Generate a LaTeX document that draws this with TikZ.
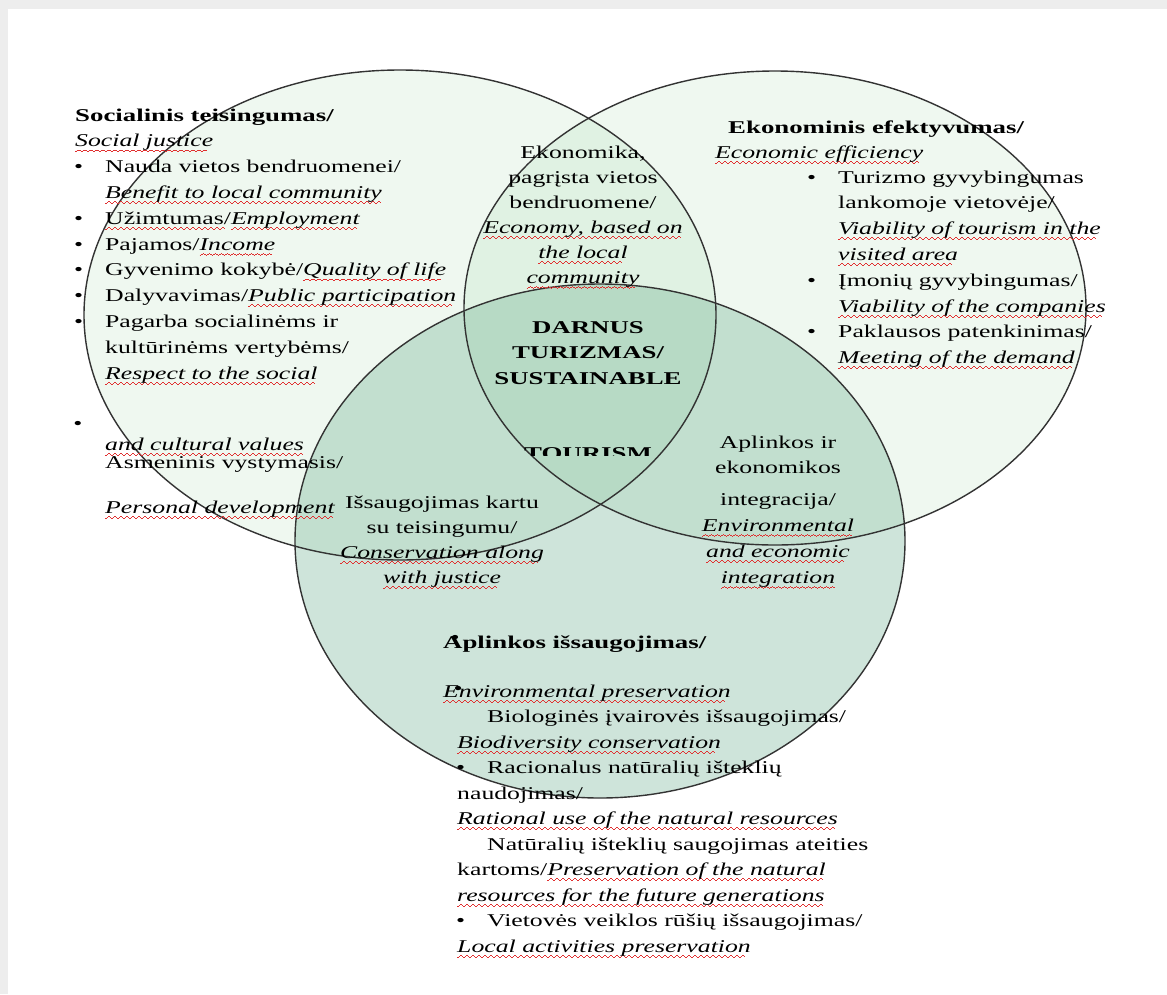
\documentclass[tikz,border=0pt]{standalone}
\usepackage{fontspec}
\setmainfont{Liberation Serif}[FakeStretch=1.43, BoldFeatures={FakeStretch=1.49}]
\usepackage{tikz}

\definecolor{vennline}{HTML}{333333}
\definecolor{ecogreen}{rgb}{0.2,0.7,0.3}
\definecolor{envgreen}{rgb}{0.24,0.59,0.43}
\definecolor{spellred}{HTML}{E03030}
\definecolor{pagegray}{HTML}{EDEDED}

\newsavebox\spellbox
\newcommand\wv{\hbox{\rule[-5.4pt]{1.5pt}{.9pt}\rule[-4.5pt]{1.5pt}{.9pt}\rule[-3.6pt]{1.5pt}{.9pt}\rule[-4.5pt]{1.5pt}{.9pt}}}
\newcommand\spell[1]{\sbox\spellbox{#1}\rlap{\hbox to \wd\spellbox{\color{spellred}\leaders\wv\hfill}}\usebox\spellbox}
\newcommand\en[1]{{\itshape\spell{#1}}}
\newcommand\li{\llap{\textbullet\hspace{22pt}}}
\newcommand\ind{\hspace*{30pt}}

\tikzset{
  venn/.style={draw=vennline, line width=1.4pt},
  txt/.style={anchor=base west, inner sep=0pt, align=left, font=\fontsize{18}{25.8}\selectfont},
  ctr/.style={anchor=base, inner sep=0pt, align=center, font=\fontsize{18}{25.8}\selectfont},
  bold/.style={font=\fontsize{18}{25.8}\selectfont\bfseries},
  dot/.style={inner sep=0pt, font=\fontsize{18}{25.8}\selectfont}
}

\begin{document}
\begin{tikzpicture}[x=1pt,y=-1pt]
\useasboundingbox (0,0) rectangle (1167,994);
\fill[pagegray] (0,0) rectangle (1167,994);
\fill[white] (8,9) rectangle (1167,994);

\fill[ecogreen, fill opacity=.08] (400,315) ellipse [x radius=316pt, y radius=245pt];
\fill[ecogreen, fill opacity=.08] (775,308) ellipse [x radius=311pt, y radius=237pt];
\fill[envgreen, fill opacity=.25] (600,541) ellipse [x radius=305pt, y radius=257pt];
\draw[venn] (400,315) ellipse [x radius=316pt, y radius=245pt];
\draw[venn] (775,308) ellipse [x radius=311pt, y radius=237pt];
\draw[venn] (600,541) ellipse [x radius=305pt, y radius=257pt];

\node[txt, bold] (soc) at (75,121) {Socialinis teisingumas/};
\node[txt] (soce) at (75,146.8) {\en{Social justice}};
\node[txt] (socl) at (105,379) {\li Nauda vietos bendruomenei/\\
\en{Benefit to local community}\\
\li\spell{Užimtumas/}\en{Employment}\\
\li Pajamos/\en{Income}\\
\li Gyvenimo kokybė/\en{Quality of life}\\
\li Dalyvavimas/\en{Public participation}\\
\li Pagarba socialinėms ir\\
kultūrinėms vertybėms/\\
\en{Respect to the social}};
\node[dot] (socb) at (78,425) {\textbullet};
\node[txt] (socv) at (105,450) {\en{and cultural values}};
\node[txt] (asm) at (105,468) {Asmeninis vystymasis/};
\node[txt] (pers) at (105,513) {\en{Personal development}};

\node[ctr, font=\fontsize{18}{25}\selectfont] (ekl) at (583,283) {Ekonomika,\\ pagrįsta vietos\\ bendruomene/\\
\en{Economy, based on}\\ \en{the local}\\ \en{community}};

\node[ctr, bold] (dt) at (588,384.6) {DARNUS\\ TURIZMAS/\\ SUSTAINABLE};
\begin{scope}
\clip (480,425) rectangle (700,455);
\node[ctr, bold] (tour) at (588,459) {TOURISM};
\end{scope}

\node[txt, bold] (eko) at (728,133) {Ekonominis efektyvumas/};
\node[txt] (ekoe) at (715,158) {\en{Economic efficiency}};
\node[txt] (ekol) at (838,363.6) {\li Turizmo gyvybingumas\\
lankomoje vietovėje/\\
\en{Viability of tourism in the}\\
\en{visited area}\\
\li Įmonių gyvybingumas/\\
\en{Viability of the companies}\\
\li Paklausos patenkinimas/\\
\en{Meeting of the demand}};

\node[ctr, font=\fontsize{18}{25}\selectfont] (isl) at (442,583) {Išsaugojimas kartu\\ su teisingumu/\\
\en{Conservation along}\\ \en{with justice}};

\node[ctr] (apl) at (778,583) {Aplinkos ir\\ ekonomikos\\[6pt] integracija/\\
\en{Environmental}\\ \en{and economic}\\ \en{integration}};

\node[txt, font=\fontsize{18}{25.5}\selectfont] (env) at (457,952) {\hspace*{-14pt}\textbf{Aplinkos išsaugojimas/}\\[23.5pt]
\hspace*{-14pt}\en{Environmental preservation}\\
\ind Biologinės įvairovės išsaugojimas/\\
\en{Biodiversity conservation}\\
\ind\li Racionalus natūralių išteklių\\
naudojimas/\\
\en{Rational use of the natural resources}\\
\ind Natūralių išteklių saugojimas ateities\\
kartoms/\en{Preservation of the natural}\\
\en{resources for the future generations}\\
\ind\li Vietovės veiklos rūšių išsaugojimas/\\
\en{Local activities preservation}};
\node[dot] (envb) at (455,639) {\textbullet};
\node[dot] (envc) at (458,690) {\textbullet};
\end{tikzpicture}
\end{document}
